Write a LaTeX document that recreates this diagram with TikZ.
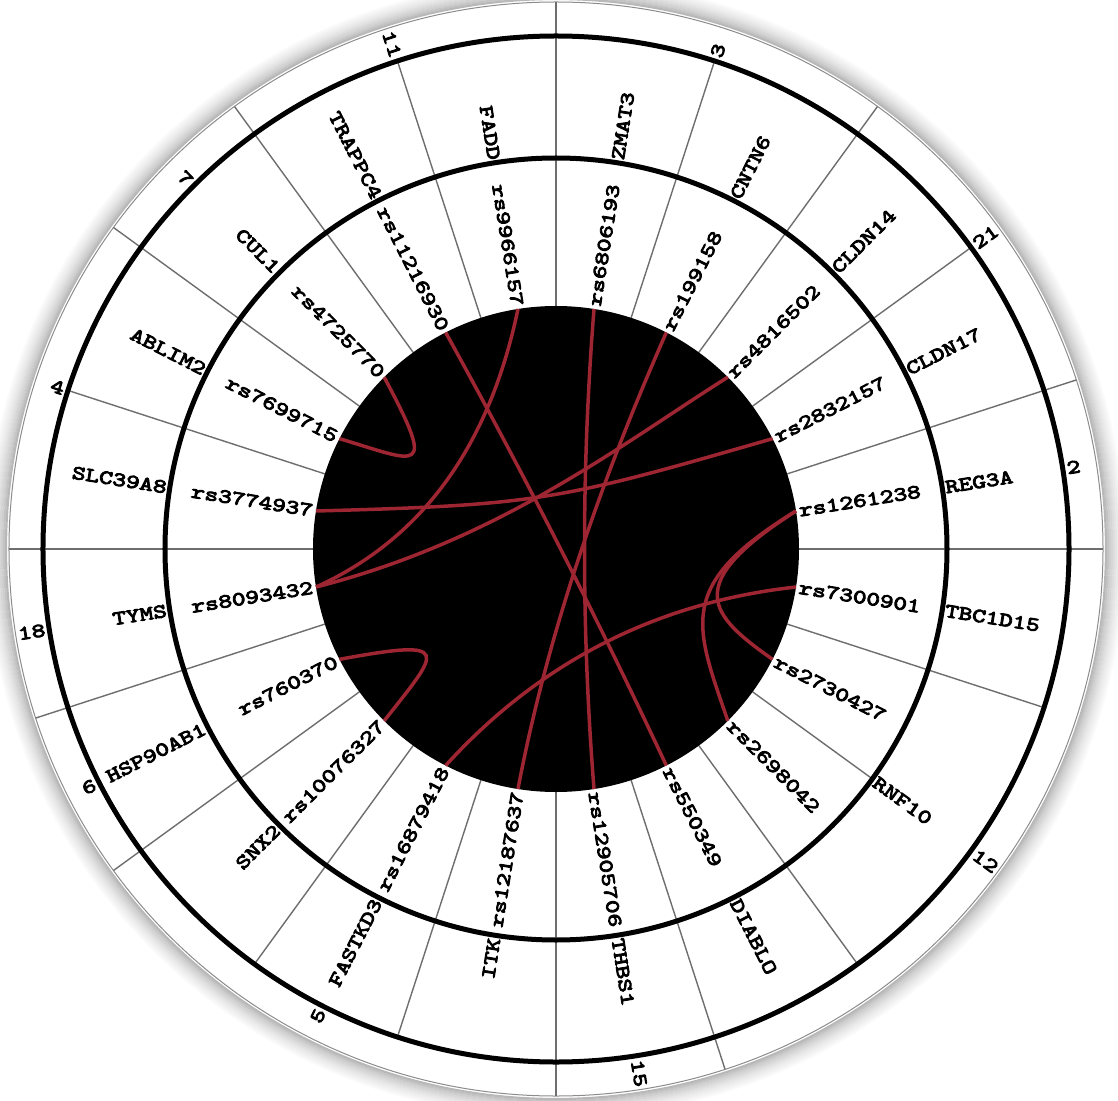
\documentclass[tikz,border=0pt]{standalone}
\usepackage{fontspec}
\newfontfamily\lbfont{lmmono10-regular}[Extension=.otf, FakeBold=4.5, FakeStretch=1.3]
\usetikzlibrary{calc}
\definecolor{linkred}{RGB}{158,37,50}
\definecolor{divgray}{RGB}{110,110,110}
\newcommand\qlink[3]{\draw[link] (#1) .. controls ($(#1)!0.6667!(#3)$) and ($(#2)!0.6667!(#3)$) .. (#2);}
\begin{document}
\begin{tikzpicture}[x=1pt,y=1pt,
  lbl/.style={inner sep=0pt, font=\fontsize{20}{20}\lbfont},
  ring/.style={line width=5pt, black},
  divider/.style={line width=1.4pt, divgray},
  link/.style={line width=3.5pt, linkred}]
\useasboundingbox (-556,-551) rectangle (562,549);
\clip (-556,-551) rectangle (562,549);
% soft shadow round the disk
\foreach \r/\c in {568/2,566/4,564/6,562/8,560/10,558/13,556/16,554/19,552/23,550/28}
  \draw[line width=2.2pt, black!\c] (0,0) circle (\r);
\fill[white] (0,0) circle (547);
\draw[line width=1pt, black!45] (0,0) circle (547);
% SNP band dividers
\foreach \k in {0,...,19}
  \draw[divider] ({90-18*\k}:243) -- ({90-18*\k}:391);
% gene band dividers
\foreach \a in {90,72,54,36,18,0,-18,-54,-72,-90,-108,-126,-144,-162,180,162,144,126,108}
  \draw[divider] (\a:391) -- (\a:513);
% chromosome band dividers
\foreach \a in {90,54,18,0,-72,-90,-144,-162,180,144,126}
  \draw[divider] (\a:513) -- (\a:547);
% rings and centre
\draw[ring] (0,0) circle (391);
\draw[ring] (0,0) circle (513);
\fill[black] (0,0) circle (243);
% SNP labels and link end points
\foreach \a/\t/\n in {81/rs6806193/1, 63/rs199158/2, 45/rs4816502/3, 27/rs2832157/4, 9/rs1261238/5, -9/rs7300901/6, -27/rs2730427/7, -45/rs2698042/8, -63/rs550349/9, -81/rs12905706/10}
{
  \coordinate (c\n) at (\a:243);
  \node[lbl, anchor=west, rotate=\a] (s\n) at (\a:246) {\t};
}
\foreach \a/\t/\n in {-99/rs12187637/11, -117/rs16879418/12, -135/rs10076327/13, -153/rs760370/14, -171/rs8093432/15, 171/rs3774937/16, 153/rs7699715/17, 135/rs4725770/18, 117/rs11216930/19, 99/rs9966157/20}
{
  \coordinate (c\n) at (\a:243);
  \node[lbl, anchor=east, rotate=\a+180] (s\n) at (\a:246) {\t};
}
% gene labels
\foreach \a/\t/\n in {81/ZMAT3/1, 63/CNTN6/2, 45/CLDN14/3, 27/CLDN17/4, 9/REG3A/5, -9/TBC1D15/6, -36/RNF10/7, -63/DIABLO/8, -81/THBS1/9}
  \node[lbl, anchor=west, rotate=\a] (g\n) at (\a:394) {\t};
\foreach \a/\t/\n in {-99/ITK/10, -117/FASTKD3/11, -135/SNX2/12, -153/HSP90AB1/13, -171/TYMS/14, 171/SLC39A8/15, 153/ABLIM2/16, 135/CUL1/17, 117/TRAPPC4/18, 99/FADD/19}
  \node[lbl, anchor=east, rotate=\a+180] (g\n) at (\a:394) {\t};
% chromosome labels
\foreach \a/\t/\n in {72/3/1, 36/21/2, 9/2/3, -36/12/4, -81/15/5}
  \node[lbl, anchor=west, rotate=\a] (k\n) at (\a:517) {\t};
\foreach \a/\t/\n in {-117/5/6, -153/6/7, -171/18/8, 162/4/9, 135/7/10, 108/11/11}
  \node[lbl, anchor=east, rotate=\a+180] (k\n) at (\a:517) {\t};
% links
\draw[link] (c18) .. controls (-118,71) and (-138,87) .. (c17);
\draw[link] (c14) .. controls (-101,-89) and (-116,-101) .. (c13);
\draw[link] (c5) .. controls (119,-36) and (139,-76) .. (c8);
\draw[link] (c5) .. controls (124,-36) and (154,-66) .. (c7);
\draw[link] (c4) .. controls (4,49) and (-16,44) .. (c16);
\draw[link] (c3) .. controls (64,104) and (-56,9) .. (c15);
\draw[link] (c2) .. controls (54,89) and (-6,-71) .. (c11);
\qlink{c6}{c12}{31,-61}
\qlink{c20}{c15}{-81,34}
\qlink{c19}{c9}{7.4,3.6}
\qlink{c1}{c10}{19,0}
\end{tikzpicture}
\end{document}
